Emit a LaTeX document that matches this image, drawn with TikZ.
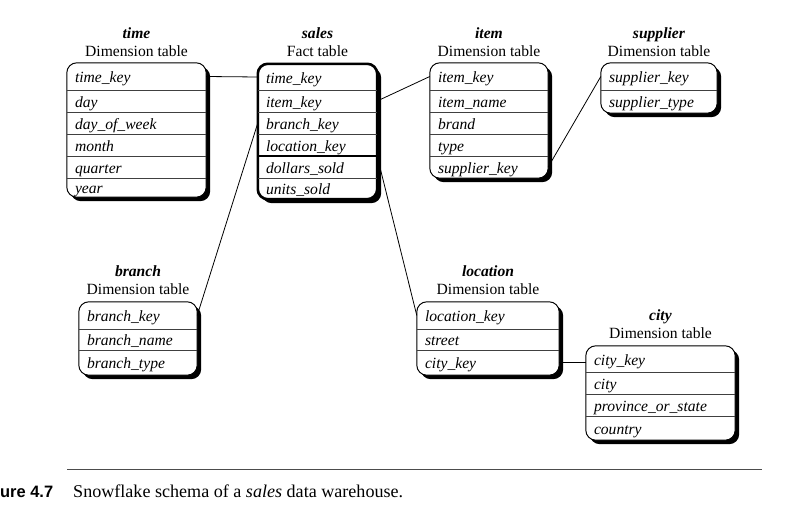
\documentclass[tikz,border=0pt]{standalone}
\usepackage{fontspec}
\setmainfont{Liberation Serif}
\newfontfamily\capsans{Liberation Sans}
\usetikzlibrary{backgrounds}
\newcommand{\rowcell}[6]{%
 \pgfmathsetmacro\rcw{#3-#2}\pgfmathsetmacro\rctw{#3-#2-16}%
 \pgfmathsetmacro\rch{#5-#4}%
 \node[cell, minimum width=\rcw pt, minimum height=\rch pt, text width=\rctw pt] (#1) at ({(#2+#3)/2},{(#4+#5)/2}) {#6};}
\newcommand{\tframe}[3]{%
 \begin{scope}[on background layer]
  \fill[shad] ([shift={(4,4)}]#1.north west) rectangle ([shift={(4,4)}]#2.south east);
  \fill[white, rounded corners=10pt] (#1.north west) rectangle (#2.south east);
 \end{scope}
 \draw[#3] (#1.north west) rectangle (#2.south east);}
\newcommand{\rsep}[1]{\draw[sep] (#1.south west) -- (#1.south east);}
\begin{document}
\begin{tikzpicture}[x=1pt,y=-1pt,
  cell/.style={inner xsep=8pt, inner ysep=0pt, align=left, text height=14pt, text depth=2pt, font=\fontsize{15.6}{18}\selectfont\itshape},
  ttl/.style={align=center, font=\fontsize{15.6}{18.5}\selectfont, inner sep=0pt},
  sep/.style={draw=black!75, line width=0.8pt},
  frame/.style={draw=black, line width=1pt, rounded corners=10pt},
  thickframe/.style={draw=black, line width=2.6pt, rounded corners=10pt},
  shad/.style={fill=black, rounded corners=10pt},
  link/.style={draw=black, line width=0.8pt}]
\useasboundingbox (0,0) rectangle (796,514);

% time
\node[ttl] (time-t) at (136.5,42) {\textbf{\textit{time}}\\Dimension table};
\rowcell{time-1}{67}{206}{63}{90}{time\_key}
\rowcell{time-2}{67}{206}{90}{112}{day}
\rowcell{time-3}{67}{206}{112}{134}{day\_of\_week}
\rowcell{time-4}{67}{206}{134}{156}{month}
\rowcell{time-5}{67}{206}{156}{178}{quarter}
\rowcell{time-6}{67}{206}{178}{197}{year}
\tframe{time-1}{time-6}{frame}
\rsep{time-1}\rsep{time-2}\rsep{time-3}\rsep{time-4}\rsep{time-5}

% sales
\node[ttl] (sales-t) at (317.5,42) {\textbf{\textit{sales}}\\Fact table};
\rowcell{sales-1}{258}{377}{64}{90}{time\_key}
\rowcell{sales-2}{258}{377}{90}{112}{item\_key}
\rowcell{sales-3}{258}{377}{112}{134}{branch\_key}
\rowcell{sales-4}{258}{377}{134}{156}{location\_key}
\rowcell{sales-5}{258}{377}{156}{178}{dollars\_sold}
\rowcell{sales-6}{258}{377}{178}{199}{units\_sold}
\tframe{sales-1}{sales-6}{thickframe}
\rsep{sales-1}\rsep{sales-2}\rsep{sales-3}\rsep{sales-5}
\draw[draw=black, line width=1.6pt] (sales-4.south west) -- (sales-4.south east);

% item
\node[ttl] (item-t) at (489,42) {\textbf{\textit{item}}\\Dimension table};
\rowcell{item-1}{430}{548}{63}{90}{item\_key}
\rowcell{item-2}{430}{548}{90}{112}{item\_name}
\rowcell{item-3}{430}{548}{112}{134}{brand}
\rowcell{item-4}{430}{548}{134}{156}{type}
\rowcell{item-5}{430}{548}{156}{178}{supplier\_key}
\tframe{item-1}{item-5}{frame}
\rsep{item-1}\rsep{item-2}\rsep{item-3}\rsep{item-4}

% supplier
\node[ttl] (supplier-t) at (659,42) {\textbf{\textit{supplier}}\\Dimension table};
\rowcell{supplier-1}{601}{717}{63}{90}{supplier\_key}
\rowcell{supplier-2}{601}{717}{90}{113}{supplier\_type}
\tframe{supplier-1}{supplier-2}{frame}
\rsep{supplier-1}

% branch
\node[ttl] (branch-t) at (138,280) {\textbf{\textit{branch}}\\Dimension table};
\rowcell{branch-1}{79}{197}{302}{329}{branch\_key}
\rowcell{branch-2}{79}{197}{329}{350}{branch\_name}
\rowcell{branch-3}{79}{197}{350}{375}{branch\_type}
\tframe{branch-1}{branch-3}{frame}
\rsep{branch-1}\rsep{branch-2}

% location
\node[ttl] (location-t) at (488,280) {\textbf{\textit{location}}\\Dimension table};
\rowcell{location-1}{417}{559}{302}{329}{location\_key}
\rowcell{location-2}{417}{559}{329}{350}{street}
\rowcell{location-3}{417}{559}{350}{375}{city\_key}
\tframe{location-1}{location-3}{frame}
\rsep{location-1}\rsep{location-2}

% city
\node[ttl] (city-t) at (660.5,324) {\textbf{\textit{city}}\\Dimension table};
\rowcell{city-1}{586}{735}{346}{372}{city\_key}
\rowcell{city-2}{586}{735}{372}{394}{city}
\rowcell{city-3}{586}{735}{394}{416}{province\_or\_state}
\rowcell{city-4}{586}{735}{416}{440}{country}
\tframe{city-1}{city-4}{frame}
\rsep{city-1}\rsep{city-2}\rsep{city-3}

% connectors
\draw[link] (time-1.east) -- (sales-1.west);
\draw[link] (sales-2.east) -- (item-1.west);
\draw[link] (sales-3.west) -- (branch-1.east);
\draw[link] (sales-4.south east) -- (location-1.west);
\draw[link] (item-5.east) -- (supplier-1.west);
\draw[link] (location-3.east) -- (location-3.east -| city-1.west);

% caption
\draw[black!70, line width=0.8pt] (67,469) -- (762,469);
\node[anchor=base west, inner sep=0pt, font=\capsans\bfseries\fontsize{16.5}{18}\selectfont] (fignum) at (0,497.5) {\resizebox{53pt}{\height}{ure 4.7}};
\node[anchor=base west, inner sep=0pt, font=\fontsize{18}{20}\selectfont] (caption) at (73,497.5) {\resizebox{330pt}{\height}{Snowflake schema of a \textit{sales} data warehouse.}};
\end{tikzpicture}
\end{document}
